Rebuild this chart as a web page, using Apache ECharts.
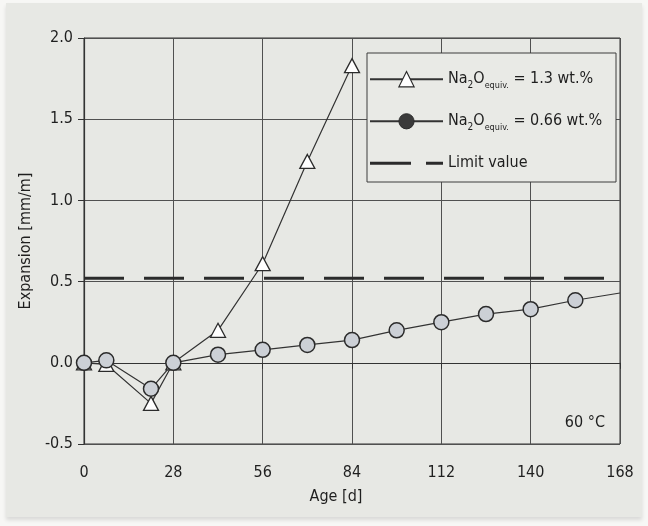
<!DOCTYPE html>
<html>
<head>
<meta charset="utf-8">
<script src="https://cdn.jsdelivr.net/npm/echarts@6/dist/echarts.min.js"></script>
<style>
  html, body { margin: 0; padding: 0; background: #f7f7f5; }
  #sheet { position: absolute; left: 6px; top: 3px; width: 636px; height: 514px; background: #e7e8e4;
           box-shadow: 0 3px 4px rgba(0,0,0,0.12); }
  #chart { position: absolute; left: 0; top: 0; width: 648px; height: 526px; }
</style>
</head>
<body>
<div id="sheet"></div>
<div id="chart"></div>
<script>
// Expansion of concrete prisms stored at 60 °C
const agesHigh = [0, 7, 21, 28, 42, 56, 70, 84];
const expansionHigh = [0.0, -0.01, -0.25, 0.0, 0.20, 0.61, 1.24, 1.83];   // Na2O equiv. = 1.3 wt.%
const agesLow = [0, 7, 21, 28, 42, 56, 70, 84, 98, 112, 126, 140, 154, 168];
const expansionLow = [0.0, 0.015, -0.16, 0.0, 0.05, 0.08, 0.11, 0.14, 0.20, 0.25, 0.30, 0.33, 0.385, 0.43]; // 0.66 wt.%
const limitValue = 0.52;
const ageTicks = [0, 28, 56, 84, 112, 140, 168];
const expansionTicks = [-0.5, 0.0, 0.5, 1.0, 1.5, 2.0];
const seriesNames = ['Na2O equiv. = 1.3 wt.%', 'Na2O equiv. = 0.66 wt.%', 'Limit value'];

const FONT = "'Liberation Sans Narrow', 'DejaVu Sans Condensed', 'Roboto', sans-serif";
const INK = '#1f1f1f';

const chart = echarts.init(document.getElementById('chart'));

const highData = agesHigh.map((a, i) => [a, expansionHigh[i]]);
// the last point of the low series runs to the frame edge without a marker
const lowData = agesLow.map((a, i) => (a === ageTicks[ageTicks.length - 1]
  ? { value: [a, expansionLow[i]], symbol: 'none' }
  : [a, expansionLow[i]]));
const limitData = [[ageTicks[0], limitValue], [ageTicks[ageTicks.length - 1], limitValue]];

function legendText(name) {
  if (name.indexOf('Na2O') === 0) {
    const rest = name.replace('Na2O equiv.', '');
    return '{n|Na}{s|2}{n|O}{e|equiv.}{n|' + rest + '}';
  }
  return '{n|' + name + '}';
}

chart.setOption({
  backgroundColor: 'transparent',
  animation: false,
  grid: { left: 84, right: 28, top: 38, bottom: 82, show: true, borderColor: '#333', borderWidth: 1 },
  xAxis: {
    type: 'value', min: ageTicks[0], max: ageTicks[ageTicks.length - 1], interval: 28,
    name: 'Age [d]', nameLocation: 'middle', nameGap: 45,
    nameTextStyle: { fontFamily: FONT, fontSize: 16, color: INK, padding: [0, 32, 0, 0] },
    axisLine: { lineStyle: { color: '#333', width: 1.2 } },
    axisTick: { show: true, length: 6, inside: false, lineStyle: { color: '#333' } },
    axisLabel: { fontFamily: FONT, fontSize: 16, color: INK, margin: 21 },
    splitLine: { show: true, lineStyle: { color: '#505050', width: 1 } }
  },
  yAxis: {
    type: 'value', min: expansionTicks[0], max: expansionTicks[expansionTicks.length - 1], interval: 0.5,
    name: 'Expansion [mm/m]', nameLocation: 'middle', nameGap: 46,
    nameTextStyle: { fontFamily: FONT, fontSize: 16, color: INK },
    axisLine: { lineStyle: { color: '#333', width: 1.2 } },
    axisTick: { show: true, length: 6, inside: false, lineStyle: { color: '#333' } },
    axisLabel: { fontFamily: FONT, fontSize: 16, color: INK, margin: 11, formatter: v => v.toFixed(1) },
    splitLine: { show: true, lineStyle: { color: '#505050', width: 1 } }
  },
  legend: {
    orient: 'vertical', left: 367, top: 71,
    padding: [0, 0, 0, 2], itemGap: 23, itemWidth: 73, itemHeight: 19,
    data: [
      { name: seriesNames[0], itemStyle: { color: '#ffffff', borderColor: '#2b2b2b', borderWidth: 1.2 } },
      { name: seriesNames[1], itemStyle: { color: '#3a3a3a', borderColor: '#2b2b2b', borderWidth: 1 } },
      { name: seriesNames[2], icon: 'path://M0,0H41V3H0ZM56,0H73V3H56Z', itemStyle: { color: '#2b2b2b' } }
    ],
    formatter: legendText,
    textStyle: {
      padding: [0, 0, 0, 0],
      rich: {
        n: { fontFamily: FONT, fontSize: 16, color: INK, lineHeight: 22 },
        s: { fontFamily: FONT, fontSize: 10, color: INK, lineHeight: 10, verticalAlign: 'bottom' },
        e: { fontFamily: FONT, fontSize: 9, color: INK, lineHeight: 9, verticalAlign: 'bottom' }
      }
    },
    z: 5
  },
  graphic: [
    { type: 'rect', z: 3, shape: { x: 367, y: 53, width: 249, height: 129 },
      style: { fill: '#e9eae6', stroke: '#3c3c3c', lineWidth: 1 } },
    { type: 'text', z: 3, x: 605, y: 423,
      style: { text: '60 °C', font: '16px ' + FONT, fill: INK, align: 'right', verticalAlign: 'middle' } }
  ],
  series: [
    {
      name: seriesNames[0], type: 'line', data: highData,
      symbol: 'triangle', symbolSize: [15, 14],
      lineStyle: { color: '#333', width: 1.2 },
      itemStyle: { color: '#ffffff', borderColor: '#2b2b2b', borderWidth: 1.3 },
      z: 2
    },
    {
      name: seriesNames[1], type: 'line', data: lowData,
      symbol: 'circle', symbolSize: 15,
      lineStyle: { color: '#333', width: 1.2 },
      itemStyle: { color: '#ccd0d6', borderColor: '#2b2b2b', borderWidth: 1.5 },
      z: 2
    },
    {
      name: seriesNames[2], type: 'line', data: limitData,
      symbol: 'none', showSymbol: false,
      lineStyle: { color: '#2b2b2b', width: 3, type: [40, 20] },
      itemStyle: { color: '#2b2b2b' },
      z: 2
    }
  ]
});
</script>
</body>
</html>
